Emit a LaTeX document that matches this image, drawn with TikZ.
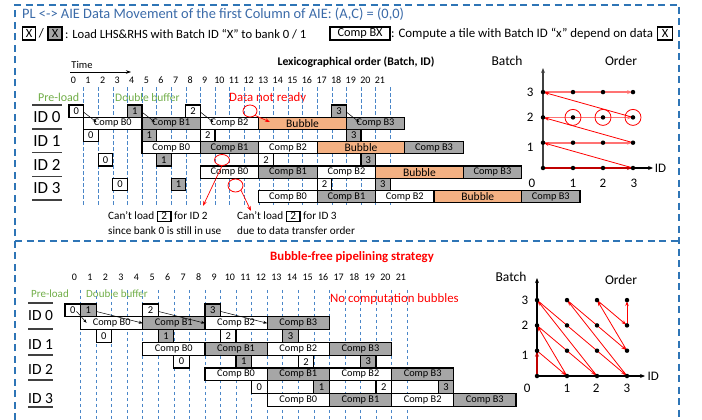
\documentclass[tikz,border=0pt]{standalone}
\usepackage{fontspec}
\setmainfont{Carlito}
\usetikzlibrary{arrows.meta,shapes.geometric}
\definecolor{frameblue}{HTML}{2E75B6}
\definecolor{gridblue}{HTML}{4A86C8}
\definecolor{titleblue}{HTML}{3A6AA8}
\definecolor{boxgray}{HTML}{A6A6A6}
\definecolor{bubor}{HTML}{F4B183}
\definecolor{pregreen}{HTML}{70AD47}
\definecolor{darkred}{HTML}{C00000}
\newcommand{\fsz}[1]{\fontsize{#1}{#1}\selectfont}
\newcommand{\ibox}[1]{{\setlength{\fboxsep}{0pt}\setlength{\fboxrule}{1.2pt}\fbox{\rule[-2pt]{0pt}{9.5pt}\makebox[12.5pt]{#1}}}}
\def\ux{14.6}\def\uy{12.2}
\begin{document}
\begin{tikzpicture}[x=1pt,y=-1pt,
  gridline/.style={draw=gridblue, line width=0.6pt, dash pattern=on 3.5pt off 2.5pt},
  frame/.style={draw=frameblue, line width=1.6pt, dash pattern=on 7pt off 4.5pt},
  ld/.style={draw, line width=1.2pt, fill=white, inner sep=0pt, outer sep=0pt, minimum width=\ux*1pt, minimum height=\uy*1pt, anchor=north west, font=\fsz{10.5}},
  ldg/.style={ld, fill=boxgray},
  cp/.style={ld, minimum width=4*\ux*1pt, font=\fsz{10.3}},
  cpg/.style={cp, fill=boxgray},
  bub/.style={ld, fill=bubor, minimum width=6*\ux*1pt, font=\fsz{11.5}},
  ldarr/.style={-{Stealth[length=4pt,width=3pt]}, line width=0.5pt},
  redarr/.style={red, line width=0.7pt, -{Stealth[length=5pt,width=3.5pt]}},
  redring/.style={draw=red, line width=0.8pt, ellipse, inner sep=0pt},
  dot/.style={circle, fill=black, inner sep=0pt, minimum size=4.5pt},
  axisl/.style={line width=1.3pt, -{Stealth[length=5pt,width=4pt]}},
  rdark/.style={draw=darkred, line width=1.5pt, -{Stealth[length=5pt,width=4pt]}, shorten >=1pt},
  rlight/.style={draw=red!55, line width=1.8pt, -{Stealth[length=5pt,width=4pt]}, shorten >=1pt},
  rthin/.style={draw=red, line width=0.8pt, -{Stealth[length=5pt,width=3.5pt]}, shorten >=1pt},
  idline/.style={line width=1.5pt, draw=black!75},
  legbox/.style={draw, line width=1.3pt, inner sep=0pt, minimum height=13pt, font=\fsz{12.5}},
  txt/.style={anchor=west, inner sep=0pt},
  tnum/.style={font=\fsz{10}, inner sep=0pt},
  chartlab/.style={font=\fsz{13}, inner sep=0pt}
  ]
\useasboundingbox (0,0) rectangle (702,420);

% ---------- frames ----------
\draw[frame] (15,420) -- (15,5) -- (679,5) -- (679,420);
\draw[frame] (15,241) -- (679,241);

% ---------- header ----------
\node[txt, text=titleblue, font=\fsz{14.4}] (title) at (22,14) {PL <-> AIE Data Movement of the first Column of AIE: (A,C) = (0,0)};
\node[legbox, minimum width=12.5pt, fill=white] (lgA) at (29,33.5) {X};
\node[font=\fsz{13}, inner sep=0pt] (lgS) at (41.5,33.5) {/};
\node[legbox, minimum width=14pt, fill=boxgray] (lgB) at (55,33.5) {X};
\node[txt, font=\fsz{12.6}] (lgT1) at (65,34) {: Load LHS\&RHS with Batch ID “X” to bank 0 / 1};
\node[legbox, minimum width=60pt, font=\fsz{12.3}] (lgC) at (360,33.5) {Comp BX};
\node[txt, font=\fsz{12.9}] (lgT2) at (391,34) {: Compute a tile with Batch ID “x” depend on data};
\node[legbox, minimum width=15pt] (lgD) at (665,33.5) {X};

% ================= TOP: lexicographical =================
\node[font=\bfseries\fsz{11.7}] (lexT) at (356,62) {Lexicographical order (Batch, ID)};
\node[font=\fsz{10.5}] (timeT) at (82,65) {Time};
\coordinate (timeS) at (70,72);
\coordinate (timeE) at (131,72);
\draw[-{Stealth[length=5pt,width=3.5pt]}, line width=0.6pt] (timeS) -- (timeE);

\node[txt, text=pregreen, font=\fsz{12}] (preA) at (38,97.5) {Pre-load};
\node[txt, text=pregreen, font=\fsz{11.5}] (dbA) at (115,97.5) {Double buffer};
\node[txt, text=red, font=\fsz{12.8}] (dnrT) at (229,98) {Data not ready};

% ID labels
\foreach \yy in {105,129,152.5,176.5,200}{\draw[idline] (32,\yy) -- (62,\yy);}
\node[font=\fsz{17}] (idA0) at (47,117.5) {ID 0};
\node[font=\fsz{17}] (idA1) at (47,141) {ID 1};
\node[font=\fsz{17}] (idA2) at (47,164.5) {ID 2};
\node[font=\fsz{17}] (idA3) at (47,188) {ID 3};

\begin{scope}[shift={(69pt,-105pt)}, x=14.6pt, y=-12.2pt]
  \foreach \t in {1,...,22}{\draw[gridline] (\t,-1.47) -- (\t,8.2);}
  \foreach \t in {0,...,21}{\node[tnum] at (\t+0.3,-2.05) {\t};}
  % ID 0
  \node[ld]  (L00) at (0,0) {0};
  \node[ldg] (L01) at (4,0) {1};
  \node[ld]  (L02) at (8,0) {2};
  \node[ldg] (L03) at (18,0) {3};
  \node[cp]  (C00) at (1,1) {Comp B0};
  \node[cpg] (C01) at (5,1) {Comp B1};
  \node[cp]  (C02) at (9,1) {Comp B2};
  \node[bub] (U0)  at (13,1) {Bubble};
  \node[cpg] (C03) at (19,1) {Comp B3};
  % ID 1
  \node[ld]  (L10) at (1,2) {0};
  \node[ldg] (L11) at (5,2) {1};
  \node[ld]  (L12) at (9,2) {2};
  \node[ldg] (L13) at (19,2) {3};
  \node[cp]  (C10) at (5,3) {Comp B0};
  \node[cpg] (C11) at (9,3) {Comp B1};
  \node[cp]  (C12) at (13,3) {Comp B2};
  \node[bub] (U1)  at (17,3) {Bubble};
  \node[cpg] (C13) at (23,3) {Comp B3};
  % ID 2
  \node[ld]  (L20) at (2,4) {0};
  \node[ldg] (L21) at (6,4) {1};
  \node[ld]  (L22) at (13,4) {2};
  \node[ldg] (L23) at (20,4) {3};
  \node[cp]  (C20) at (9,5) {Comp B0};
  \node[cpg] (C21) at (13,5) {Comp B1};
  \node[cp]  (C22) at (17,5) {Comp B2};
  \node[bub] (U2)  at (21,5) {Bubble};
  \node[cpg] (C23) at (27,5) {Comp B3};
  % ID 3
  \node[ld]  (L30) at (3,6) {0};
  \node[ldg] (L31) at (7,6) {1};
  \node[ld]  (L32) at (17,6) {2};
  \node[ldg] (L33) at (21,6) {3};
  \node[cp]  (C30) at (13,7) {Comp B0};
  \node[cpg] (C31) at (17,7) {Comp B1};
  \node[cp]  (C32) at (21,7) {Comp B2};
  \node[bub] (U3)  at (25,7) {Bubble};
  \node[cpg] (C33) at (31,7) {Comp B3};
  \foreach \b in {0,1,2,3}{\draw[ldarr] ([yshift=-1pt]L0\b.east) -- ([xshift=13pt,yshift=-5pt]C0\b.north west);}
\end{scope}

% red annotations (top)
\node[redring, minimum width=14pt, minimum height=12pt] (dnrC) at (250,111) {};
\coordinate (dnrE) at (270,122);
\draw[redarr] (dnrC.south east) -- (dnrE);
\node[redring, minimum width=15pt, minimum height=11pt] (cl2C) at (222,160) {};
\coordinate (cl2E) at (203,206);
\draw[redarr] (cl2C.south) -- (cl2E);
\node[redring, minimum width=15pt, minimum height=13pt] (cl3C) at (235.5,185.5) {};
\coordinate (cl3E) at (251,211);
\draw[redarr] (cl3C.south east) -- (cl3E);
\node[txt, font=\fsz{11.2}] (cl2T) at (108,216.5) {Can’t load \ibox{2} for ID 2};
\node[txt, font=\fsz{11.2}] (cl2U) at (108,231) {since bank 0 is still in use};
\node[txt, font=\fsz{11.2}] (cl3T) at (237,216.5) {Can’t load \ibox{2} for ID 3};
\node[txt, font=\fsz{11.2}] (cl3U) at (237,231) {due to data transfer order};

% top chart
\node[chartlab, font=\fsz{13.5}] (batchA) at (507,61) {Batch};
\node[chartlab, font=\fsz{13.5}] (orderA) at (621,61) {Order};
\begin{scope}[shift={(543pt,-168pt)}, x=30pt, y=25.3pt]
  \foreach \i in {0,...,3}{\foreach \b in {0,...,3}{\coordinate (P\i\b) at (\i,\b);}}
  \coordinate (PY) at (0,3.95);
  \coordinate (PX) at (3.67,0);
  \draw[axisl, black!75] (P00) -- (PY);
  \draw[axisl] (P00) -- (PX);
  \draw[rdark] (P00) -- (P30);
  \foreach \b in {1,2,3}{\draw[rlight] (P0\b) -- (P3\b);}
  \foreach \bb/\cc in {0/1,1/2,2/3}{\draw[rthin] (P3\bb) -- (P0\cc);}
  \foreach \i in {0,...,3}{\foreach \b in {0,...,3}{\node[dot] (D\i\b) at (P\i\b) {};}}
  \node[draw=red, circle, line width=0.8pt, minimum size=16pt, inner sep=0pt] (RA) at (P12) {};
  \node[draw=red, circle, line width=0.8pt, minimum size=16pt, inner sep=0pt] (RB) at (P22) {};
  \node[draw=red, circle, line width=0.8pt, minimum size=16pt, inner sep=0pt] (RC) at (P32) {};
  \node[chartlab] (ya1) at (-0.43,0.83) {1};
  \node[chartlab] (ya2) at (-0.43,2) {2};
  \node[chartlab] (ya3) at (-0.43,3) {3};
  \node[chartlab] (xa0) at (-0.37,-0.59) {0};
  \node[chartlab] (xa1) at (1,-0.59) {1};
  \node[chartlab] (xa2) at (2,-0.59) {2};
  \node[chartlab] (xa3) at (3.03,-0.59) {3};
  \node[chartlab, anchor=west] (xaID) at (3.72,0) {ID};
\end{scope}

% ================= BOTTOM: bubble-free =================
\def\ux{15.55}\def\uy{12.8}
\node[font=\bfseries\fsz{12.8}, text=red] (bfT) at (352,257) {Bubble-free pipelining strategy};
\node[txt, text=pregreen, font=\fsz{11}] (preB) at (31,294) {Pre-load};
\node[txt, text=pregreen, font=\fsz{11}] (dbB) at (86,294) {Double buffer};
\node[txt, text=red, font=\fsz{12.8}] (ncT) at (330,299) {No computation bubbles};

\foreach \yy in {303,329,355,380,407}{\draw[idline] (28,\yy) -- (53,\yy);}
\node[font=\fsz{15.5}] (idB0) at (40.5,316) {ID 0};
\node[font=\fsz{15.5}] (idB1) at (40.5,344.5) {ID 1};
\node[font=\fsz{15.5}] (idB2) at (40.5,369) {ID 2};
\node[font=\fsz{15.5}] (idB3) at (40.5,398.5) {ID 3};

\begin{scope}[shift={(65pt,-304pt)}, x=15.55pt, y=-12.8pt]
  \foreach \t in {1,...,22}{\draw[gridline] (\t,-1.1) -- (\t,9.1);}
  \foreach \t in {0,...,21}{\node[tnum] at (\t+0.6,-2.1) {\t};}
  % ID 0
  \node[ld]  (l00) at (0,0) {0};
  \node[ldg] (l01) at (1,0) {1};
  \node[ld]  (l02) at (5,0) {2};
  \node[ldg] (l03) at (9,0) {3};
  \node[cp]  (c00) at (1,1) {Comp B0};
  \node[cpg] (c01) at (5,1) {Comp B1};
  \node[cp]  (c02) at (9,1) {Comp B2};
  \node[cpg] (c03) at (13,1) {Comp B3};
  % ID 1
  \node[ld]  (l10) at (2,2) {0};
  \node[ldg] (l11) at (6,2) {1};
  \node[ld]  (l12) at (10,2) {2};
  \node[ldg] (l13) at (14,2) {3};
  \node[cp]  (c10) at (5,3) {Comp B0};
  \node[cpg] (c11) at (9,3) {Comp B1};
  \node[cp]  (c12) at (13,3) {Comp B2};
  \node[cpg] (c13) at (17,3) {Comp B3};
  % ID 2
  \node[ld]  (l20) at (7,4) {0};
  \node[ldg] (l21) at (11,4) {1};
  \node[ld]  (l22) at (15,4) {2};
  \node[ldg] (l23) at (19,4) {3};
  \node[cp]  (c20) at (9,5) {Comp B0};
  \node[cpg] (c21) at (13,5) {Comp B1};
  \node[cp]  (c22) at (17,5) {Comp B2};
  \node[cpg] (c23) at (21,5) {Comp B3};
  % ID 3
  \node[ld]  (l30) at (12,6) {0};
  \node[ldg] (l31) at (16,6) {1};
  \node[ld]  (l32) at (20,6) {2};
  \node[ldg] (l33) at (24,6) {3};
  \node[cp]  (c30) at (13,7) {Comp B0};
  \node[cpg] (c31) at (17,7) {Comp B1};
  \node[cp]  (c32) at (21,7) {Comp B2};
  \node[cpg] (c33) at (25,7) {Comp B3};
  \draw[ldarr] ([xshift=-4pt,yshift=-1pt]l00.east) -- ([xshift=6pt,yshift=-6pt]c00.north west);
  \foreach \b in {1,2,3}{\draw[ldarr] ([yshift=-1pt]l0\b.east) -- (c0\b.west);}
\end{scope}

% bottom chart
\node[chartlab, font=\fsz{13.5}] (batchB) at (511,277) {Batch};
\node[chartlab, font=\fsz{13.5}] (orderB) at (621,280) {Order};
\begin{scope}[shift={(537pt,-376pt)}, x=30pt, y=25.3pt]
  \foreach \i in {0,...,3}{\foreach \b in {0,...,3}{\coordinate (Q\i\b) at (\i,\b);}}
  \coordinate (QY) at (0,3.87);
  \coordinate (QX) at (3.6,0);
  \draw[axisl] (Q00) -- (QY);
  \draw[axisl] (Q00) -- (QX);
  \draw[rdark] (Q00) -- (Q01);
  \foreach \p/\q in {01/10,10/02,02/20,20/03,03/30,30/13,13/31,31/23,23/32,32/33}{\draw[rthin] (Q\p) -- (Q\q);}
  \foreach \i in {0,...,3}{\foreach \b in {0,...,3}{\node[dot] (E\i\b) at (Q\i\b) {};}}
  \node[chartlab] (yb1) at (-0.4,0.83) {1};
  \node[chartlab] (yb2) at (-0.4,2) {2};
  \node[chartlab] (yb3) at (-0.4,3) {3};
  \node[chartlab] (xb0) at (-0.33,-0.47) {0};
  \node[chartlab] (xb1) at (1,-0.47) {1};
  \node[chartlab] (xb2) at (1.97,-0.47) {2};
  \node[chartlab] (xb3) at (3,-0.47) {3};
  \node[chartlab, anchor=west] (xbID) at (3.68,0) {ID};
\end{scope}
\end{tikzpicture}
\end{document}
